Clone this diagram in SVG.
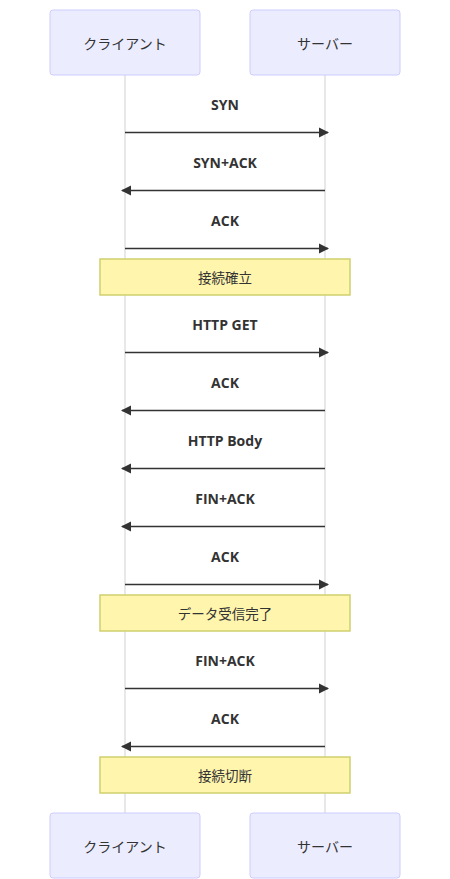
<svg xmlns="http://www.w3.org/2000/svg" width="450" height="879" viewBox="0 0 450 879">
<style>
.actor{fill:#ECECFF;stroke:#CCCCFF;stroke-width:1}
.atext{font-family:"Noto Sans CJK JP","Liberation Sans",sans-serif;font-size:14px;fill:#333;text-anchor:middle;dominant-baseline:central}
.life{stroke:#e0e0e0;stroke-width:1.5}
.msg{stroke:#333;stroke-width:1.5;fill:none}
.mtext{font-family:"Open Sans","Liberation Sans",sans-serif;font-size:14px;font-weight:bold;fill:#333;text-anchor:middle;dominant-baseline:central}
.note{fill:#fff5ad;stroke:#cfcf6e;stroke-width:1.5}
.ntext{font-family:"Noto Sans CJK JP","Liberation Sans",sans-serif;font-size:13.5px;fill:#333;text-anchor:middle;dominant-baseline:central}
</style>
<defs>
<marker id="ah" markerWidth="12" markerHeight="12" refX="9" refY="5" orient="auto-start-reverse" markerUnits="userSpaceOnUse" viewBox="0 0 12 10">
<path d="M0,0 L10,5 L0,10 z" fill="#333"/>
</marker>
</defs>
<rect width="450" height="879" fill="#fff"/>
<g id="lifelines">
<line class="life" x1="125" y1="75" x2="125" y2="813"/>
<line class="life" x1="325" y1="75" x2="325" y2="813"/>
</g>
<g id="actor-client-top"><rect class="actor" x="50" y="10" width="150" height="65" rx="3"/><text class="atext" x="125" y="42.5">クライアント</text></g>
<g id="actor-server-top"><rect class="actor" x="250" y="10" width="150" height="65" rx="3"/><text class="atext" x="325" y="42.5">サーバー</text></g>
<g id="connectors">
<line class="msg" x1="125" y1="132.5" x2="328" y2="132.5" marker-end="url(#ah)"/>
<text class="mtext" x="225" y="104">SYN</text>
<line class="msg" x1="325" y1="190.5" x2="122" y2="190.5" marker-end="url(#ah)"/>
<text class="mtext" x="225" y="162">SYN+ACK</text>
<line class="msg" x1="125" y1="248.5" x2="328" y2="248.5" marker-end="url(#ah)"/>
<text class="mtext" x="225" y="220">ACK</text>
<line class="msg" x1="125" y1="352.5" x2="328" y2="352.5" marker-end="url(#ah)"/>
<text class="mtext" x="225" y="324">HTTP GET</text>
<line class="msg" x1="325" y1="410.5" x2="122" y2="410.5" marker-end="url(#ah)"/>
<text class="mtext" x="225" y="382">ACK</text>
<line class="msg" x1="325" y1="468.5" x2="122" y2="468.5" marker-end="url(#ah)"/>
<text class="mtext" x="225" y="440">HTTP Body</text>
<line class="msg" x1="325" y1="526.5" x2="122" y2="526.5" marker-end="url(#ah)"/>
<text class="mtext" x="225" y="498">FIN+ACK</text>
<line class="msg" x1="125" y1="584.5" x2="328" y2="584.5" marker-end="url(#ah)"/>
<text class="mtext" x="225" y="556">ACK</text>
<line class="msg" x1="125" y1="688.5" x2="328" y2="688.5" marker-end="url(#ah)"/>
<text class="mtext" x="225" y="660">FIN+ACK</text>
<line class="msg" x1="325" y1="746.5" x2="122" y2="746.5" marker-end="url(#ah)"/>
<text class="mtext" x="225" y="718">ACK</text>
</g>
<g id="note1"><rect class="note" x="100" y="259" width="250" height="36"/><text class="ntext" x="225" y="277">接続確立</text></g>
<g id="note2"><rect class="note" x="100" y="595" width="250" height="36"/><text class="ntext" x="225" y="613">データ受信完了</text></g>
<g id="note3"><rect class="note" x="100" y="757" width="250" height="36"/><text class="ntext" x="225" y="775">接続切断</text></g>
<g id="actor-client-bottom"><rect class="actor" x="50" y="813" width="150" height="65" rx="3"/><text class="atext" x="125" y="845.5">クライアント</text></g>
<g id="actor-server-bottom"><rect class="actor" x="250" y="813" width="150" height="65" rx="3"/><text class="atext" x="325" y="845.5">サーバー</text></g>
</svg>
